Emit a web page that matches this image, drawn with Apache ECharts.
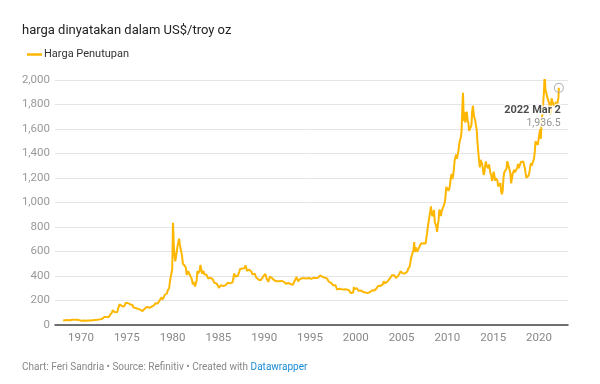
<!DOCTYPE html>
<html><head><meta charset="utf-8">
<script src="https://cdn.jsdelivr.net/npm/echarts@6/dist/echarts.min.js"></script>
<style>html,body{margin:0;padding:0;background:#fff}#c{width:600px;height:384px}</style>
</head><body><div id="c"></div><script>
// Monthly closing prices (US$/troy oz)
const startYear = 1968;
const prices1968s = [
  36,38,40,39,41,41,40,39,40,39,40,41,
  42,42,43,43,43,41,42,41,41,40,37,35
];
const prices1970s = [
  35,35,35,36,36,35,35,35,36,37,37,37,
  37,38,38,39,40,40,41,42,42,42,43,43,
  46,48,48,49,55,62,65,68,65,65,63,64,
  65,74,85,90,102,120,120,107,103,100,95,106,
  130,150,168,172,162,155,143,155,150,158,180,183,
  175,180,178,170,167,164,166,163,144,143,142,139,
  131,132,132,128,126,125,118,109,114,116,130,134,
  132,136,148,149,146,141,143,145,149,158,162,160,
  173,178,183,175,176,183,188,206,212,227,206,194,
  227,245,242,239,257,279,295,302,355,392,392,455
];
const prices1980s = [
  835,665,560,520,515,600,645,630,705,660,620,595,
  557,500,498,495,480,460,410,410,440,435,410,410,
  385,365,330,350,335,315,340,365,440,420,415,445,
  490,495,420,430,440,415,420,415,410,395,380,388,
  370,385,395,380,375,375,345,345,340,340,340,320,
  303,298,305,325,317,316,317,330,323,325,325,322,
  345,338,345,340,342,343,348,375,420,423,395,390,
  408,402,406,438,460,450,450,460,460,465,465,488,
  478,442,445,452,452,452,437,433,413,406,420,419,
  404,388,390,384,371,368,375,365,362,367,394,409
];
const prices1990s = [
  410,417,394,374,369,352,362,395,389,381,382,378,
  384,363,363,358,357,366,368,357,349,358,360,361,
  354,354,344,338,337,340,353,343,345,344,335,334,
  329,329,330,342,367,372,392,378,355,364,373,383,
  387,382,384,377,381,386,385,380,391,389,384,380,
  379,377,382,391,385,387,386,383,383,383,386,387,
  400,405,396,393,392,385,383,387,383,381,378,369,
  355,347,352,344,344,341,324,324,323,325,306,289,
  289,297,296,308,299,292,293,284,289,296,294,291,
  287,287,286,282,276,261,256,257,265,310,293,283
];
const prices2000s = [
  285,300,286,280,275,286,282,275,273,270,266,272,
  266,262,263,260,272,270,268,272,283,283,276,276,
  282,296,294,302,314,321,314,310,319,317,319,333,
  357,359,340,328,355,356,351,360,378,379,390,407,
  414,405,407,403,384,392,399,401,405,420,439,442,
  424,423,434,428,421,430,424,437,456,470,476,510,
  549,555,557,610,676,596,633,632,598,585,627,629,
  631,665,655,680,667,655,665,665,712,754,806,803,
  889,922,968,909,888,890,939,839,829,806,760,816,
  858,943,924,890,928,946,934,949,996,1043,1127,1134
];
const prices2010s = [
  1117,1095,1113,1148,1205,1232,1193,1215,1270,1343,1370,1391,
  1356,1372,1424,1474,1510,1528,1572,1756,1895,1665,1739,1652,
  1656,1742,1672,1650,1585,1596,1594,1630,1744,1790,1722,1688,
  1670,1627,1592,1485,1414,1343,1286,1348,1349,1316,1275,1225,
  1244,1300,1336,1299,1288,1279,1311,1296,1239,1222,1176,1200,
  1251,1227,1178,1198,1199,1181,1131,1117,1125,1159,1086,1068,
  1097,1200,1246,1242,1260,1276,1337,1341,1326,1266,1238,1157,
  1192,1234,1231,1266,1246,1260,1236,1283,1315,1280,1283,1265,
  1331,1331,1325,1335,1303,1282,1238,1202,1198,1215,1221,1250,
  1291,1320,1300,1286,1284,1359,1413,1500,1510,1495,1470,1479
];
const prices2020s = [
  1560,1597,1520,1683,1716,1732,1900,2060,1921,1900,1866,1858,
  1867,1808,1718,1760,1850,1834,1807,1785,1775,1777,1821,1790,
  1817,1856
];
const lastPoint = { year: 2022, month: 3, day: 2, price: 1936.5 };
const lastDateLabel = '2022 Mar 2';
const lastPriceLabel = '1,936.5';

const yTicks = [0,200,400,600,800,1000,1200,1400,1600,1800,2000];
const xTickYears = [1970,1975,1980,1985,1990,1995,2000,2005,2010,2015,2020];

const allPrices = [].concat(prices1968s, prices1970s, prices1980s, prices1990s, prices2000s, prices2010s, prices2020s);
const data = allPrices.map((p, i) => [startYear + (i + 0.5) / 12, p]);
const lastX = lastPoint.year + (lastPoint.month - 1) / 12 + (lastPoint.day - 1) / 365;
data.push([lastX, lastPoint.price]);

const gold = '#fdb700';
const chart = echarts.init(document.getElementById('c'), null, { renderer: 'canvas' });
chart.setOption({
  animation: false,
  textStyle: { fontFamily: 'Roboto' },
  title: {
    text: 'harga dinyatakan dalam US$/troy oz',
    left: 17, top: 19,
    textStyle: { fontFamily: 'Roboto', fontSize: 13, fontWeight: 'normal', color: '#222' }
  },
  legend: {
    left: 22, top: 44,
    icon: 'rect', itemWidth: 15, itemHeight: 2.5, itemGap: 8,
    textStyle: { fontFamily: 'Roboto', fontSize: 11, color: '#333', padding: [0,0,0,-3] },
    data: ['Harga Penutupan']
  },
  grid: { left: 55, right: 32, top: 80, bottom: 59 },
  xAxis: {
    type: 'value',
    min: 1967.16, max: 2023.17,
    axisLine: { show: true, onZero: false, lineStyle: { color: '#444', width: 1.5 } },
    axisTick: { show: false },
    splitLine: { show: false },
    axisLabel: {
      customValues: xTickYears,
      color: '#888', fontSize: 11.5, margin: 7,
      formatter: v => String(v)
    }
  },
  yAxis: {
    type: 'value',
    min: yTicks[0], max: yTicks[yTicks.length - 1], interval: 200,
    axisLine: { show: false },
    axisTick: { show: false },
    splitLine: { lineStyle: { color: '#e4e4e4', width: 1 } },
    axisLabel: {
      color: '#999', fontSize: 11.5, margin: 5,
      formatter: v => v.toLocaleString('en-US')
    }
  },
  series: [
    {
      name: 'Harga Penutupan',
      type: 'line',
      data: data,
      showSymbol: false,
      symbol: 'none',
      lineStyle: { color: gold, width: 2 },
      itemStyle: { color: gold },
      z: 2
    },
    {
      name: 'last',
      type: 'scatter',
      data: [data[data.length - 1]],
      symbol: 'circle',
      symbolSize: 9,
      itemStyle: { color: 'rgba(255,255,255,0)', borderColor: '#aaa', borderWidth: 1.2 },
      z: 3,
      label: {
        show: true,
        position: [7, 22],
        align: 'right',
        verticalAlign: 'top',
        textBorderColor: '#fff',
        textBorderWidth: 3,
        formatter: '{a|' + lastDateLabel + '}\n{b|' + lastPriceLabel + '}',
        rich: {
          a: { fontFamily: 'Roboto', fontSize: 11, fontWeight: 'bold', color: '#1d1d1d', lineHeight: 12, align: 'right', textBorderColor: '#fff', textBorderWidth: 3 },
          b: { fontFamily: 'Roboto', fontSize: 10.5, color: '#777', lineHeight: 13, align: 'right', textBorderColor: '#fff', textBorderWidth: 3 }
        }
      }
    }
  ],
  graphic: [
    {
      type: 'text', left: 22, top: 362,
      style: {
        text: '{g|Chart: Feri Sandria • Source: Refinitiv • Created with }{l|Datawrapper}',
        rich: {
          g: { fontFamily: 'Roboto', fontSize: 10, fill: '#888', color: '#888' },
          l: { fontFamily: 'Roboto', fontSize: 10, fill: '#1a8ad6', color: '#1a8ad6' }
        }
      }
    }
  ]
});
</script></body></html>
